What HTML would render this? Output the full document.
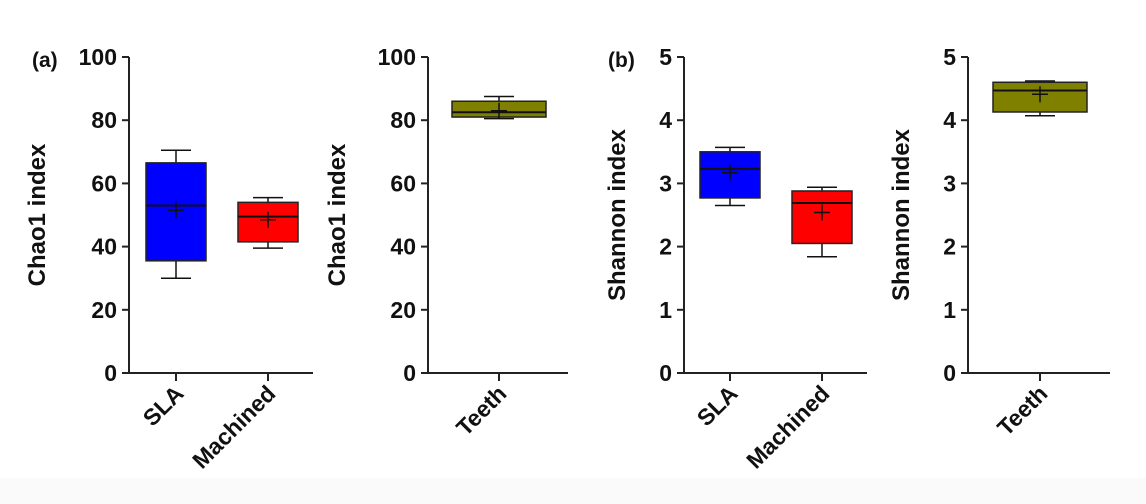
<!DOCTYPE html>
<html><head><meta charset="utf-8"><style>
html,body{margin:0;padding:0;background:#fff;}
svg{display:block;font-family:"Liberation Sans",Arial,sans-serif;font-weight:bold;}
</style></head><body>
<svg id="chart" width="1146" height="504" viewBox="0 0 1146 504" xmlns="http://www.w3.org/2000/svg">
<rect x="0" y="0" width="1146" height="504" fill="#fff"/>
<rect x="0" y="478" width="1146" height="26" fill="#fafafa"/>
</svg>
<script>
// Data arrays
const chaoCats = ["SLA", "Machined"];
const chaoMin = [30, 39.5];
const chaoQ1 = [35.5, 41.5];
const chaoMed = [53, 49.5];
const chaoQ3 = [66.5, 54];
const chaoMax = [70.5, 55.5];
const chaoMean = [51.5, 48.5];

const chaoTeethCats = ["Teeth"];
const chaoTeethMin = [80.5];
const chaoTeethQ1 = [81];
const chaoTeethMed = [82.5];
const chaoTeethQ3 = [86];
const chaoTeethMax = [87.5];
const chaoTeethMean = [83];

const shanCats = ["SLA", "Machined"];
const shanMin = [2.65, 1.84];
const shanQ1 = [2.77, 2.05];
const shanMed = [3.23, 2.69];
const shanQ3 = [3.5, 2.88];
const shanMax = [3.57, 2.94];
const shanMean = [3.17, 2.54];

const shanTeethCats = ["Teeth"];
const shanTeethMin = [4.07];
const shanTeethQ1 = [4.13];
const shanTeethMed = [4.47];
const shanTeethQ3 = [4.6];
const shanTeethMax = [4.62];
const shanTeethMean = [4.41];

const chaoTicks = ["0", "20", "40", "60", "80", "100"];
const shanTicks = ["0", "1", "2", "3", "4", "5"];

const NS = "http://www.w3.org/2000/svg";
const svg = document.getElementById("chart");
function mk(tag, attrs, parent) {
  const e = document.createElementNS(NS, tag);
  for (const k in attrs) e.setAttribute(k, attrs[k]);
  (parent || svg).appendChild(e);
  return e;
}

function panel(cfg) {
  const g = mk("g", {});
  
  
  const yTop = 57, yBot = 373;
  const ymax = Number(cfg.ticks[cfg.ticks.length - 1]);
  const y = v => yBot - (v / ymax) * (yBot - yTop);
  const xFn = i => cfg.x0 + cfg.step * i;
  const ya = mk("line", {x1: cfg.ax, x2: cfg.ax, y1: yTop, y2: yBot, stroke: "#222", "stroke-width": 2}, g);
  
  
  const xa = mk("line", {x1: cfg.ax - 7, x2: cfg.axEnd, y1: yBot, y2: yBot, stroke: "#222", "stroke-width": 2}, g);
  
  
  cfg.ticks.forEach(t => {
    const yy = y(Number(t));
    const tl = mk("line", {x1: cfg.ax - 7, x2: cfg.ax, y1: yy, y2: yy, stroke: "#222", "stroke-width": 2}, g);
    
    
    const tx = mk("text", {x: cfg.ax - 12, y: yy + 8, "text-anchor": "end", "font-size": 23, fill: "#111"}, g);
    tx.textContent = t;
    
    
  });
  const tt = mk("text", {x: 0, y: 0, "text-anchor": "middle", "font-size": 24, fill: "#111", transform: `translate(${cfg.ax - cfg.titleOff},215) rotate(-90)`}, g);
  tt.textContent = cfg.title;
  
  
  if (cfg.label) {
    const lb = mk("text", {x: cfg.labelX, y: 67, "font-size": 21, fill: "#111"}, g);
    lb.textContent = cfg.label;
    
    
  }
  cfg.cats.forEach((c, i) => {
    const cx = xFn(i), hw = cfg.hw;
    const tk = mk("line", {x1: cx, x2: cx, y1: yBot, y2: yBot + 8, stroke: "#222", "stroke-width": 2}, g);
    
    
    const xl = mk("text", {x: 0, y: 0, "text-anchor": "end", "font-size": 23, fill: "#111", transform: `translate(${cx + 9},${yBot + 22}) rotate(-45)`}, g);
    xl.textContent = c;
    
    
    const wl = mk("line", {x1: cx, x2: cx, y1: y(cfg.max[i]), y2: y(cfg.min[i]), stroke: "#111", "stroke-width": 1.5}, g);
    
    
    [cfg.max[i], cfg.min[i]].forEach(v => {
      const cap = mk("line", {x1: cx - 15, x2: cx + 15, y1: y(v), y2: y(v), stroke: "#111", "stroke-width": 1.5}, g);
      
      
    });
    const bx = mk("rect", {x: cx - hw, y: y(cfg.q3[i]), width: 2 * hw, height: y(cfg.q1[i]) - y(cfg.q3[i]), fill: cfg.colors[i], stroke: "#222", "stroke-width": 1.5}, g);
    
    
    const md = mk("line", {x1: cx - hw, x2: cx + hw, y1: y(cfg.med[i]), y2: y(cfg.med[i]), stroke: "#111", "stroke-width": 2}, g);
    
    
    const my = y(cfg.mean[i]);
    const mp = mk("path", {d: `M${cx - 8},${my}H${cx + 8}M${cx},${my - 8}V${my + 8}`, stroke: "#111", "stroke-width": 1.5, fill: "none"}, g);
    
    
  });
}

panel({name: "panel-a-chao1", label: "(a)", labelX: 32, title: "Chao1 index", titleOff: 84, ax: 129, axEnd: 313, x0: 176, step: 92, hw: 30,
  cats: chaoCats, min: chaoMin, q1: chaoQ1, med: chaoMed, q3: chaoQ3, max: chaoMax, mean: chaoMean,
  ticks: chaoTicks, colors: ["#0000ff", "#ff0000"]});
panel({name: "panel-a-chao1-teeth", title: "Chao1 index", titleOff: 83, ax: 428, axEnd: 568, x0: 499, step: 0, hw: 47,
  cats: chaoTeethCats, min: chaoTeethMin, q1: chaoTeethQ1, med: chaoTeethMed, q3: chaoTeethQ3, max: chaoTeethMax, mean: chaoTeethMean,
  ticks: chaoTicks, colors: ["#808000"]});
panel({name: "panel-b-shannon", label: "(b)", labelX: 608, title: "Shannon index", titleOff: 59, ax: 684, axEnd: 867, x0: 730, step: 92, hw: 30,
  cats: shanCats, min: shanMin, q1: shanQ1, med: shanMed, q3: shanQ3, max: shanMax, mean: shanMean,
  ticks: shanTicks, colors: ["#0000ff", "#ff0000"]});
panel({name: "panel-b-shannon-teeth", title: "Shannon index", titleOff: 59, ax: 968, axEnd: 1110, x0: 1040, step: 0, hw: 47,
  cats: shanTeethCats, min: shanTeethMin, q1: shanTeethQ1, med: shanTeethMed, q3: shanTeethQ3, max: shanTeethMax, mean: shanTeethMean,
  ticks: shanTicks, colors: ["#808000"]});
</script>
</body></html>
